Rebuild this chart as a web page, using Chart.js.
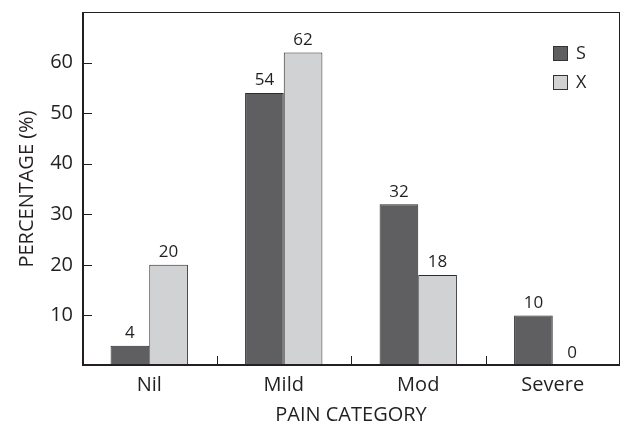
<!DOCTYPE html>
<html>
<head>
<meta charset="utf-8">
<script src="https://cdn.jsdelivr.net/npm/chart.js@4"></script>
<style>
html,body{margin:0;padding:0;background:#fff;}
#wrap{width:623px;height:425px;}
</style>
</head>
<body>
<div id="wrap"><canvas id="c" width="623" height="425"></canvas></div>
<script>
const categories = ["Nil", "Mild", "Mod", "Severe"];
const seriesS = [4, 54, 32, 10];
const seriesX = [20, 62, 18, 0];
const seriesNames = ["S", "X"];
const yTicks = [10, 20, 30, 40, 50, 60];

const FONT = "'Open Sans', 'Liberation Sans', sans-serif";
const INK = "#231f20";

const framePlugin = {
  id: 'frame',
  afterDatasetsDraw(chart) {
    const {ctx, chartArea: a, scales} = chart;
    ctx.save();
    ctx.strokeStyle = INK;
    ctx.lineWidth = 1;
    ctx.beginPath();
    ctx.moveTo(a.left, a.top + 0.5); ctx.lineTo(a.right, a.top + 0.5);
    ctx.moveTo(a.right - 0.5, a.top); ctx.lineTo(a.right - 0.5, a.bottom);
    ctx.stroke();
    ctx.lineWidth = 2;
    ctx.beginPath();
    ctx.moveTo(a.left + 1, a.top); ctx.lineTo(a.left + 1, a.bottom);
    ctx.moveTo(a.left, a.bottom - 1); ctx.lineTo(a.right, a.bottom - 1);
    ctx.stroke();
    ctx.lineWidth = 1;
    const y = scales.y;
    yTicks.forEach(v => {
      const py = Math.round(y.getPixelForValue(v)) + 0.5;
      ctx.beginPath(); ctx.moveTo(a.left, py); ctx.lineTo(a.left + 10, py); ctx.stroke();
    });
    const x = scales.x;
    for (let i = 0; i < categories.length - 1; i++) {
      const px = Math.round((x.getPixelForValue(i) + x.getPixelForValue(i + 1)) / 2) + 0.5;
      ctx.beginPath(); ctx.moveTo(px, a.bottom); ctx.lineTo(px, a.bottom - 10); ctx.stroke();
    }
    ctx.fillStyle = INK;
    ctx.font = "17px " + FONT;
    ctx.textAlign = 'center';
    ctx.textBaseline = 'bottom';
    chart.data.datasets.forEach((ds, di) => {
      const meta = chart.getDatasetMeta(di);
      meta.data.forEach((bar, i) => {
        ctx.fillText(String(ds.data[i]), bar.x, bar.y - 4);
      });
    });
    ctx.font = "18px " + FONT;
    ctx.textAlign = 'left';
    ctx.textBaseline = 'middle';
    chart.data.datasets.forEach((ds, di) => {
      const bx = a.right - 67, by = a.top + 34 + di * 29;
      ctx.fillStyle = ds.backgroundColor;
      ctx.fillRect(bx, by, 15, 15);
      ctx.lineWidth = 1;
      ctx.strokeStyle = "#333";
      ctx.strokeRect(bx + 0.5, by + 0.5, 14, 14);
      ctx.fillStyle = INK;
      ctx.fillText(ds.label, bx + 23, by + 8);
    });
    ctx.restore();
  }
};

new Chart(document.getElementById('c'), {
  type: 'bar',
  data: {
    labels: categories,
    datasets: [
      {label: seriesNames[0], data: seriesS, backgroundColor: "#5f5f61", borderColor: "#2b2b2b", borderWidth: 1, borderSkipped: 'bottom'},
      {label: seriesNames[1], data: seriesX, backgroundColor: "#d1d2d4", borderColor: "#2b2b2b", borderWidth: 1, borderSkipped: 'bottom'}
    ]
  },
  options: {
    responsive: false,
    animation: false,
    layout: {padding: {top: 12, right: 3, left: 11, bottom: 0}},
    datasets: {bar: {barPercentage: 1, categoryPercentage: 0.575}},
    plugins: {legend: {display: false}, tooltip: {enabled: false}},
    scales: {
      x: {
        grid: {display: false, drawTicks: false},
        border: {display: false},
        ticks: {color: INK, font: {family: FONT, size: 20}, padding: 7},
        title: {display: true, text: "PAIN CATEGORY", color: INK, font: {family: FONT, size: 20, lineHeight: 1}, padding: {top: 4, bottom: 0}},
        afterFit(s) { s.height = 59; s.paddingLeft = 0; s.paddingRight = 0; }
      },
      y: {
        min: 0, max: 70,
        grid: {display: false, drawTicks: false},
        border: {display: false},
        ticks: {
          stepSize: 10, color: INK, font: {family: FONT, size: 20}, padding: 9,
          callback: v => yTicks.includes(v) ? String(v) : ''
        },
        title: {display: true, text: "PERCENTAGE (%)", color: INK, font: {family: FONT, size: 20}, padding: {bottom: 0}},
        afterFit(s) { s.width = 71; s.paddingTop = 0; s.paddingBottom = 0; }
      }
    }
  },
  plugins: [framePlugin]
});
</script>
</body>
</html>
